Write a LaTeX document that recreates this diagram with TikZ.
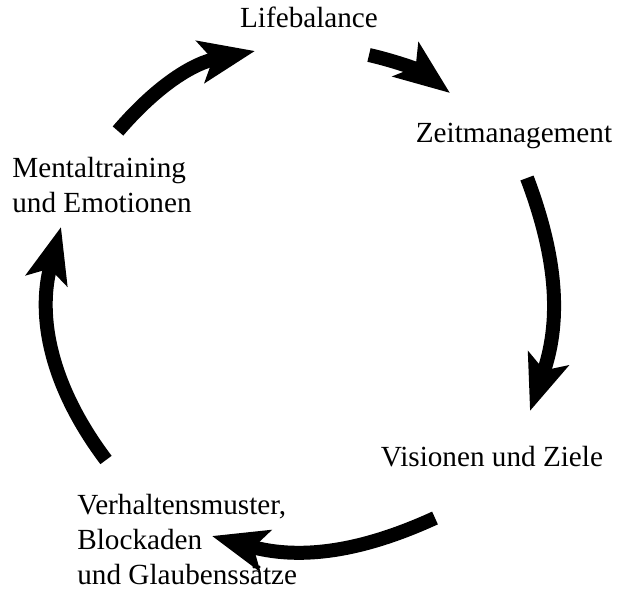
\documentclass[tikz,border=0pt]{standalone}
\usepackage{fontspec}
\setmainfont{Liberation Serif}
\usepackage{tikz}
\usetikzlibrary{arrows.meta}

\begin{document}
\begin{tikzpicture}[x=0.5pt, y=-0.5pt,
  label/.style={inner sep=0pt, font=\fontsize{14.6}{17.5}\selectfont},
  cycarrow/.style={line width=7pt, -{Stealth[length=27.5pt, width=21pt, inset=6pt]}}]

\useasboundingbox (0,0) rectangle (618,593);

%------------------ STATIONS ------------------%
\node[label, anchor=base] (life) at (309,28) {Lifebalance};
\node[label, anchor=base] (zeit) at (514,143) {Zeitmanagement};
\node[label, anchor=base west, align=left] (mental) at (12,213)
  {Mentaltraining\\und Emotionen};
\node[label, anchor=base] (vision) at (492,467) {Visionen und Ziele};
\node[label, anchor=base west, align=left] (verhalten) at (77,585)
  {Verhaltensmuster,\\Blockaden\\und Glaubenssätze};

%------------------ ARROW ENDS ------------------%
\coordinate (mentalOut) at (118,131);
\coordinate (lifeIn)    at (255,51);
\coordinate (lifeOut)   at (369,55);
\coordinate (zeitIn)    at (450,93);
\coordinate (zeitOut)   at (527,178);
\coordinate (visionIn)  at (530,411);
\coordinate (visionOut) at (435,518);
\coordinate (verhIn)    at (212,536);
\coordinate (verhOut)   at (106,460);
\coordinate (mentalIn)  at (61,227);

%------------------ CYCLE ------------------%
\draw[cycarrow] (mentalOut) to[bend left=19] (lifeIn);
\draw[cycarrow] (lifeOut)   to[bend left=12] (zeitIn);
\draw[cycarrow] (zeitOut)   to[bend left=20] (visionIn);
\draw[cycarrow] (visionOut) to[bend left=20] (verhIn);
\draw[cycarrow] (verhOut)   to[bend left=26] (mentalIn);

\end{tikzpicture}
\end{document}
